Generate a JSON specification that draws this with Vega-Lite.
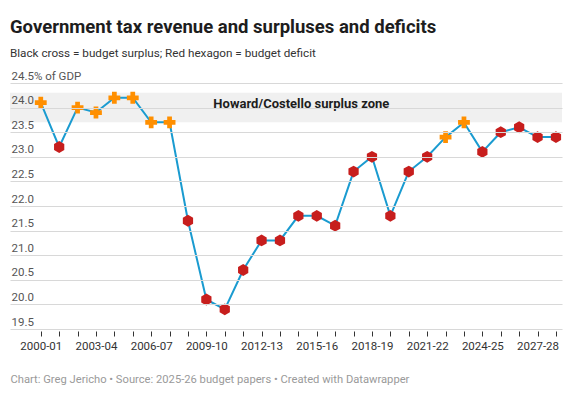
{
  "$schema": "https://vega.github.io/schema/vega-lite/v6.json",
  "width": 552,
  "height": 246,
  "autosize": {"type": "none"},
  "padding": {"left": 10, "top": 83, "right": 22, "bottom": 65},
  "background": "white",
  "title": {
    "text": "Government tax revenue and surpluses and deficits",
    "subtitle": "Black cross = budget surplus; Red hexagon = budget deficit",
    "anchor": "start",
    "frame": "group",
    "font": "Roboto",
    "fontSize": 18.5,
    "fontWeight": "bold",
    "color": "#1d1d1d",
    "subtitleFont": "Roboto",
    "subtitleFontSize": 11.7,
    "subtitleColor": "#333333",
    "subtitlePadding": 12,
    "offset": 10
  },
  "datasets": {
    "revenue": [
      {"year": "2000-01", "value": 24.1, "balance": "surplus"},
      {"year": "2001-02", "value": 23.2, "balance": "deficit"},
      {"year": "2002-03", "value": 24.0, "balance": "surplus"},
      {"year": "2003-04", "value": 23.9, "balance": "surplus"},
      {"year": "2004-05", "value": 24.2, "balance": "surplus"},
      {"year": "2005-06", "value": 24.2, "balance": "surplus"},
      {"year": "2006-07", "value": 23.7, "balance": "surplus"},
      {"year": "2007-08", "value": 23.7, "balance": "surplus"},
      {"year": "2008-09", "value": 21.7, "balance": "deficit"},
      {"year": "2009-10", "value": 20.1, "balance": "deficit"},
      {"year": "2010-11", "value": 19.9, "balance": "deficit"},
      {"year": "2011-12", "value": 20.7, "balance": "deficit"},
      {"year": "2012-13", "value": 21.3, "balance": "deficit"},
      {"year": "2013-14", "value": 21.3, "balance": "deficit"},
      {"year": "2014-15", "value": 21.8, "balance": "deficit"},
      {"year": "2015-16", "value": 21.8, "balance": "deficit"},
      {"year": "2016-17", "value": 21.6, "balance": "deficit"},
      {"year": "2017-18", "value": 22.7, "balance": "deficit"},
      {"year": "2018-19", "value": 23.0, "balance": "deficit"},
      {"year": "2019-20", "value": 21.8, "balance": "deficit"},
      {"year": "2020-21", "value": 22.7, "balance": "deficit"},
      {"year": "2021-22", "value": 23.0, "balance": "deficit"},
      {"year": "2022-23", "value": 23.4, "balance": "surplus"},
      {"year": "2023-24", "value": 23.7, "balance": "surplus"},
      {"year": "2024-25", "value": 23.1, "balance": "deficit"},
      {"year": "2025-26", "value": 23.5, "balance": "deficit"},
      {"year": "2026-27", "value": 23.6, "balance": "deficit"},
      {"year": "2027-28", "value": 23.4, "balance": "deficit"},
      {"year": "2028-29", "value": 23.4, "balance": "deficit"}
    ],
    "zone": [
      {"value": 23.7, "value2": 24.3}
    ],
    "note": [
      {"year": "2014-15", "value": 24.0, "label": "Howard/Costello surplus zone"}
    ]
  },
  "encoding": {
    "x": {
      "field": "year",
      "type": "ordinal",
      "scale": {"type": "point", "padding": 1.6, "align": 0.836},
      "axis": {
        "title": "Chart: Greg Jericho • Source: 2025-26 budget papers • Created with Datawrapper",
        "titleFont": "Roboto",
        "titleFontSize": 11.2,
        "titleFontWeight": "normal",
        "titleColor": "#9a9a9a",
        "titleAnchor": "start",
        "titleAlign": "left",
        "titleBaseline": "alphabetic",
        "titleX": 0,
        "titleY": 51,
        "domain": false,
        "grid": false,
        "ticks": true,
        "tickSize": 5,
        "tickColor": "#333333",
        "tickWidth": 1,
        "offset": 2,
        "labelAngle": 0,
        "labelFont": "Roboto",
        "labelFontSize": 11.5,
        "labelColor": "#333333",
        "labelPadding": 4,
        "labelOverlap": false,
        "labelExpr": "(toNumber(substring(datum.value, 0, 4)) - 2000) % 3 == 0 ? datum.value : ''"
      }
    },
    "y": {
      "field": "value",
      "type": "quantitative",
      "scale": {"domain": [19.5, 24.5], "nice": false, "zero": false},
      "axis": {
        "title": null,
        "values": [19.5, 20, 20.5, 21, 21.5, 22, 22.5, 23, 23.5, 24, 24.5],
        "domain": false,
        "ticks": false,
        "grid": true,
        "gridColor": "#d8d8d8",
        "gridWidth": 1.1,
        "gridOpacity": 1,
        "zindex": 1,
        "labelAlign": "left",
        "labelBaseline": "alphabetic",
        "labelPadding": -1,
        "labelOffset": -4,
        "labelFont": "Roboto",
        "labelFontSize": 11.5,
        "labelColor": "#555555",
        "labelOverlap": false,
        "labelBound": false,
        "labelFlush": false,
        "labelExpr": "datum.value == 24.5 ? '24.5% of GDP' : format(datum.value, '.1f')"
      }
    }
  },
  "layer": [
    {
      "data": {"name": "zone"},
      "mark": {"type": "rect", "color": "#f0f0f0"},
      "encoding": {
        "x": null,
        "y2": {"field": "value2"}
      }
    },
    {
      "data": {"name": "note"},
      "mark": {"type": "text", "font": "Roboto", "fontSize": 13, "fontWeight": "bold", "color": "#1d1d1d", "align": "center", "baseline": "alphabetic", "dx": 3},
      "encoding": {
        "text": {"field": "label"}
      }
    },
    {
      "data": {"name": "revenue"},
      "mark": {"type": "line", "color": "#1a9bd0", "strokeWidth": 2},
      "encoding": {}
    },
    {
      "data": {"name": "revenue"},
      "mark": {"type": "point", "filled": true, "opacity": 1, "size": 140},
      "encoding": {
        "shape": {
          "field": "balance",
          "type": "nominal",
          "scale": {"domain": ["surplus", "deficit"], "range": ["cross", "M0,-1L0.866,-0.5L0.866,0.5L0,1L-0.866,0.5L-0.866,-0.5Z"]},
          "legend": null
        },
        "color": {
          "field": "balance",
          "type": "nominal",
          "scale": {"domain": ["surplus", "deficit"], "range": ["#ff8f00", "#c71e1d"]},
          "legend": null
        }
      }
    }
  ],
  "config": {
    "view": {"stroke": null},
    "font": "Roboto"
  }
}
